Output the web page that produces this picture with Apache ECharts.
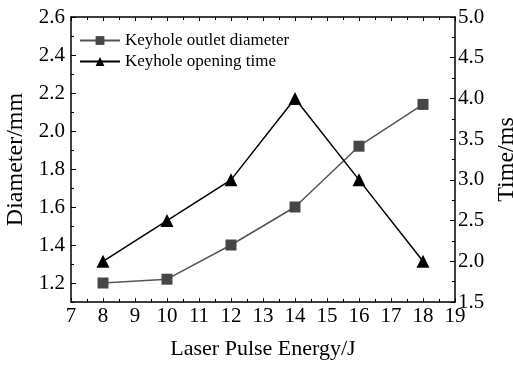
<!DOCTYPE html>
<html>
<head>
<meta charset="utf-8">
<script src="https://cdn.jsdelivr.net/npm/echarts@6/dist/echarts.min.js"></script>
<style>html,body{margin:0;padding:0;background:#fff}#c{width:513px;height:365px}</style>
</head>
<body>
<div id="c"></div>
<script>
var energy = [8, 10, 12, 14, 16, 18];
var diameter = [1.20, 1.22, 1.40, 1.60, 1.92, 2.14];
var openingTime = [2.0, 2.5, 3.0, 4.0, 3.0, 2.0];
var leftMajor = [1.2, 1.4, 1.6, 1.8, 2.0, 2.2, 2.4, 2.6];
var leftMinor = [1.1, 1.3, 1.5, 1.7, 1.9, 2.1, 2.3, 2.5];
var seriesNames = ['Keyhole outlet diameter', 'Keyhole opening time'];

var FONT = 'Liberation Serif, Times New Roman, serif';
var chart = echarts.init(document.getElementById('c'));
var xBase = {
  type: 'value', min: 7, max: 19, interval: 1,
  axisLine: {show: true, onZero: false, lineStyle: {color: '#000', width: 1.5}},
  axisTick: {show: true, inside: true, length: 4, lineStyle: {color: '#000'}},
  minorTick: {show: true, splitNumber: 2, length: 3, lineStyle: {color: '#000'}},
  splitLine: {show: false}
};
chart.setOption({
  animation: false,
  grid: {left: 71, right: 58, top: 17, bottom: 63, containLabel: false, outerBoundsMode: 'none'},
  legend: {
    data: seriesNames, orient: 'vertical', left: 74, top: 27,
    itemWidth: 40, itemHeight: 11, itemGap: 4,
    textStyle: {fontFamily: FONT, fontSize: 17, color: '#000'}
  },
  xAxis: [
    Object.assign({}, xBase, {
      position: 'bottom',
      name: 'Laser Pulse Energy/J', nameLocation: 'middle', nameGap: 36,
      nameTextStyle: {fontFamily: FONT, fontSize: 22, color: '#000'},
      axisLabel: {fontFamily: FONT, fontSize: 21, color: '#000', margin: 4}
    }),
    Object.assign({}, xBase, {position: 'top', axisLabel: {show: false}})
  ],
  yAxis: [
    {
      type: 'value', position: 'left', min: 1.1, max: 2.6, interval: 0.1,
      name: 'Diameter/mm', nameLocation: 'middle', nameGap: 42, nameRotate: 90,
      nameTextStyle: {fontFamily: FONT, fontSize: 24, color: '#000'},
      axisLine: {show: true, lineStyle: {color: '#000', width: 1.5}},
      axisTick: {show: true, inside: true, length: 5, customValues: leftMajor, lineStyle: {color: '#000'}},
      axisLabel: {fontFamily: FONT, fontSize: 21, color: '#000', margin: 6, customValues: leftMajor,
        formatter: function (v) { return v.toFixed(1); }},
      splitLine: {show: false}
    },
    {
      type: 'value', position: 'right', min: 1.5, max: 5.0, interval: 0.5,
      name: 'Time/ms', nameLocation: 'middle', nameGap: 36, nameRotate: 90,
      nameTextStyle: {fontFamily: FONT, fontSize: 24, color: '#000'},
      axisLine: {show: true, lineStyle: {color: '#000', width: 1.5}},
      axisTick: {show: true, inside: true, length: 5, lineStyle: {color: '#000'}},
      minorTick: {show: true, splitNumber: 2, length: 3, lineStyle: {color: '#000'}},
      axisLabel: {fontFamily: FONT, fontSize: 21, color: '#000', margin: 3,
        formatter: function (v) { return v.toFixed(1); }},
      splitLine: {show: false}
    },
    {
      type: 'value', position: 'left', min: 1.1, max: 2.6, interval: 0.1,
      axisLine: {show: false},
      axisTick: {show: true, inside: true, length: 3, customValues: leftMinor, lineStyle: {color: '#000'}},
      axisLabel: {show: false},
      splitLine: {show: false}
    }
  ],
  series: [
    {
      name: seriesNames[0], type: 'line', xAxisIndex: 0, yAxisIndex: 0,
      data: energy.map(function (x, i) { return [x, diameter[i]]; }),
      symbol: 'rect', symbolSize: 11,
      itemStyle: {color: '#464646'},
      lineStyle: {color: '#555', width: 1.5}
    },
    {
      name: seriesNames[1], type: 'line', xAxisIndex: 0, yAxisIndex: 1,
      data: energy.map(function (x, i) { return [x, openingTime[i]]; }),
      symbol: 'triangle', symbolSize: 13,
      itemStyle: {color: '#000'},
      lineStyle: {color: '#000', width: 1.5}
    }
  ]
});
</script>
</body>
</html>
